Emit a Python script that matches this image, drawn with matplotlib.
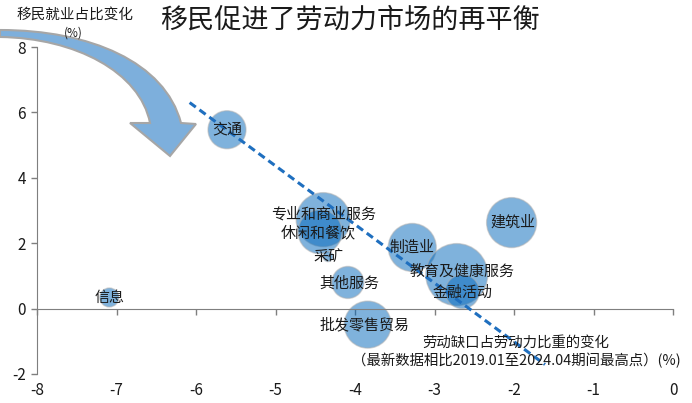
import numpy as np
import matplotlib
matplotlib.use("Agg")
from matplotlib import pyplot as plt
from matplotlib.path import Path
from matplotlib.patches import PathPatch

plt.rcParams['font.family'] = ['Noto Sans CJK SC', 'DejaVu Sans']
plt.rcParams['axes.unicode_minus'] = False

# data
sectors = ['交通', '专业和商业服务', '休闲和餐饮', '采矿', '其他服务', '批发零售贸易',
           '制造业', '教育及健康服务', '金融活动', '建筑业', '信息']
gap_change = [-5.61, -4.40, -4.44, -4.34, -4.09, -3.84, -3.28, -2.72, -2.65, -2.03, -7.09]
migrant_change = [5.47, 2.72, 2.35, 1.59, 0.80, -0.49, 1.87, 1.04, 0.52, 2.63, 0.34]
bubble_weight = [19, 27, 22, 5, 16, 23.5, 24, 31, 17, 25, 9.5]
trend_x = [-6.08, -1.61]
trend_y = [6.30, -1.71]
x_ticks = [-8, -7, -6, -5, -4, -3, -2, -1, 0]
y_ticks = [-2, 0, 2, 4, 6, 8]

# label offsets in points (dx, dy) from bubble centre
label_offset = {
    '专业和商业服务': (0, 4), '休闲和餐饮': (-1, -1), '采矿': (0, 0),
    '其他服务': (1, -1), '批发零售贸易': (-2, 0), '教育及健康服务': (4, 2),
    '金融活动': (0, -1), '建筑业': (1, 0), '信息': (0, 0),
}

W, H = 692, 403
fig = plt.figure(figsize=(W / 100, H / 100), dpi=100)
ax = fig.add_axes([37 / W, 1 - 374 / H, (673 - 37) / W, (374 - 47) / H])

# bubbles
sizes = [(1.44 * r) ** 2 for r in bubble_weight]
ax.scatter(gap_change, migrant_change, s=sizes, color='#0066BB', alpha=0.5,
           edgecolors='#B0B0B0', linewidths=1.0, zorder=2)

# trend line
ax.plot(trend_x, trend_y, color='#1F6FBF', lw=2.2, ls=(0, (2.5, 1.5)), zorder=3)

for name, x, y in zip(sectors, gap_change, migrant_change):
    dx, dy = label_offset.get(name, (0, 0))
    ax.annotate(name, (x, y), xytext=(dx, dy), textcoords='offset points',
                ha='center', va='center', fontsize=10.8, color='#1a1a1a', zorder=4)

ax.set_xlim(-8, 0)
ax.set_ylim(-2, 8)
ax.set_xticks(x_ticks)
ax.set_yticks(y_ticks)
ax.set_xticklabels([str(t) for t in x_ticks])
ax.set_yticklabels([str(t) for t in y_ticks])

for s in ['top', 'right']:
    ax.spines[s].set_visible(False)
ax.spines['bottom'].set_position(('data', 0))
ax.spines['bottom'].set_color('#7F7F7F')
ax.spines['left'].set_color('#7F7F7F')
ax.tick_params(axis='both', colors='#7F7F7F', length=4, width=1, labelcolor='#1a1a1a',
               labelsize=11)
ax.tick_params(axis='x', pad=49)
ax.tick_params(axis='y', pad=4)

# titles and axis captions
fig.text(350 / W, 1 - 20 / H, '移民促进了劳动力市场的再平衡', ha='center', va='center',
         fontsize=19.5, color='#1a1a1a')
fig.text(75 / W, 1 - 15 / H, '移民就业占比变化', ha='center', va='center',
         fontsize=10.5, color='#1a1a1a', zorder=5)
fig.text(73 / W, 1 - 33 / H, '(%)', ha='center', va='center',
         fontsize=8.5, color='#1a1a1a', zorder=5)
fig.text(516 / W, 1 - 352 / H,
         '劳动缺口占劳动力比重的变化\n（最新数据相比2019.01至2024.04期间最高点）(%)',
         ha='center', va='center', fontsize=10.4, linespacing=1.3, color='#1a1a1a',
         zorder=5)

# big curved arrow drawn in pixel coords
pts = [(0, 30), (90, 30), (165, 62), (181, 123), (196, 124), (170, 156),
       (130, 123), (150, 123), (140, 72), (75, 38), (0, 37), (0, 30)]
codes = [Path.MOVETO, Path.CURVE4, Path.CURVE4, Path.CURVE4, Path.LINETO,
         Path.LINETO, Path.LINETO, Path.LINETO, Path.CURVE4, Path.CURVE4,
         Path.CURVE4, Path.CLOSEPOLY]
verts = [(px / W, 1 - py / H) for px, py in pts]
arrow = PathPatch(Path(verts, codes), facecolor='#7DAFDC', edgecolor='#A6A6A6',
                  lw=1.5, transform=fig.transFigure, zorder=4)
fig.add_artist(arrow)

fig.savefig('out.png', dpi=100)
